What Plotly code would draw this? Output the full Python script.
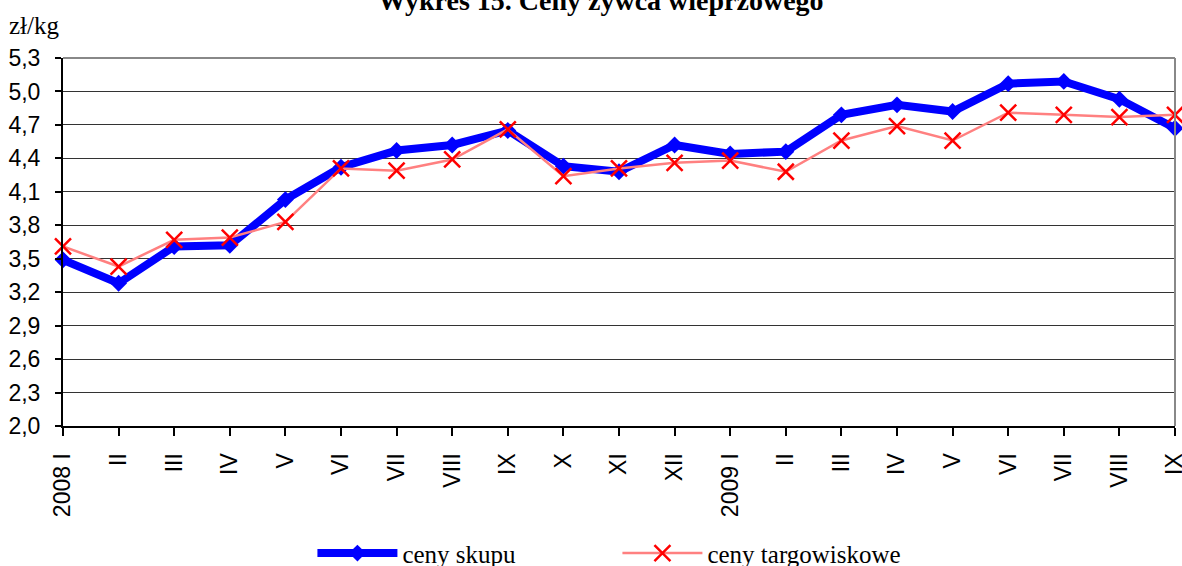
import plotly.graph_objects as go

categories = ["2008 I", "II", "III", "IV", "V", "VI", "VII", "VIII", "IX", "X", "XI", "XII",
              "2009 I", "II", "III", "IV", "V", "VI", "VII", "VIII", "IX"]
ceny_skupu = [3.49, 3.28, 3.61, 3.62, 4.03, 4.32, 4.47, 4.52, 4.65, 4.33, 4.28, 4.52,
              4.44, 4.46, 4.79, 4.88, 4.82, 5.07, 5.09, 4.93, 4.67]
ceny_targowiskowe = [3.61, 3.43, 3.67, 3.69, 3.83, 4.31, 4.29, 4.39, 4.66, 4.24, 4.31, 4.36,
                     4.38, 4.28, 4.56, 4.69, 4.56, 4.81, 4.79, 4.77, 4.79]
y_ticks = [2.0, 2.3, 2.6, 2.9, 3.2, 3.5, 3.8, 4.1, 4.4, 4.7, 5.0, 5.3]

xs = list(range(len(categories)))

fig = go.Figure()
fig.add_trace(go.Scatter(
    x=xs, y=ceny_skupu, name="ceny skupu", mode="lines+markers",
    line=dict(color="#0000FF", width=8),
    marker=dict(symbol="diamond", size=13, color="#0000FF"),
    cliponaxis=False,
))
fig.add_trace(go.Scatter(
    x=xs, y=ceny_targowiskowe, name="ceny targowiskowe", mode="lines+markers",
    line=dict(color="#FF8080", width=2.5),
    marker=dict(symbol="x-thin-open", size=16, color="#FF0000",
                line=dict(color="#FF0000", width=2.5)),
    cliponaxis=False,
))

fig.update_layout(
    width=1182, height=566,
    margin=dict(l=63, r=7, t=58, b=140, autoexpand=False),
    paper_bgcolor="white", plot_bgcolor="white",
    separators=", ",
    showlegend=True,
    legend=dict(
        orientation="h", x=0.2243, y=-0.346, xanchor="left", yanchor="middle",
        font=dict(family="Liberation Serif", size=25, color="black"),
        itemwidth=80, entrywidth=210, entrywidthmode="pixels",
        bgcolor="rgba(0,0,0,0)", traceorder="normal",
    ),
    xaxis=dict(
        range=[0, len(categories) - 1], automargin=False,
        tickmode="array", tickvals=xs, ticktext=categories,
        tickangle=-90, ticks="outside", ticklen=8, tickcolor="black", tickwidth=1.5,
        ticklabelstandoff=8, ticklabeloverflow="allow",
        showline=True, linecolor="black", linewidth=2,
        showgrid=False, zeroline=False,
        tickfont=dict(family="Liberation Sans", size=23, color="black"),
    ),
    yaxis=dict(
        range=[2.0, 5.3], tickmode="array", tickvals=y_ticks, automargin=False,
        tickformat=".1f", ticks="outside", ticklen=6, tickcolor="black", tickwidth=1.5,
        ticklabelstandoff=10,
        showline=True, linecolor="black", linewidth=2,
        showgrid=True, gridcolor="#333333", gridwidth=1, zeroline=False,
        tickfont=dict(family="Liberation Sans", size=23, color="black"),
    ),
    shapes=[
        dict(type="line", xref="paper", yref="paper", x0=1, x1=1, y0=0, y1=1,
             line=dict(color="#888888", width=2)),
        dict(type="line", xref="paper", yref="paper", x0=0, x1=1, y0=1, y1=1,
             line=dict(color="#888888", width=2)),
    ],
    annotations=[
        dict(text="<b>Wykres 15. Ceny żywca wieprzowego</b>", xref="paper", yref="paper",
             x=(601 - 63) / 1112, y=1 + 57 / 368, xanchor="center", yanchor="middle",
             showarrow=False, font=dict(family="Liberation Serif", size=28, color="black")),
        dict(text="zł/kg", xref="paper", yref="paper",
             x=(7 - 63) / 1112, y=1 + 33 / 368, xanchor="left", yanchor="middle",
             showarrow=False, font=dict(family="Liberation Serif", size=25, color="black")),
    ],
)

fig.write_html("out.html", config={"displayModeBar": False},
               post_script="document.body.style.margin='0';")
